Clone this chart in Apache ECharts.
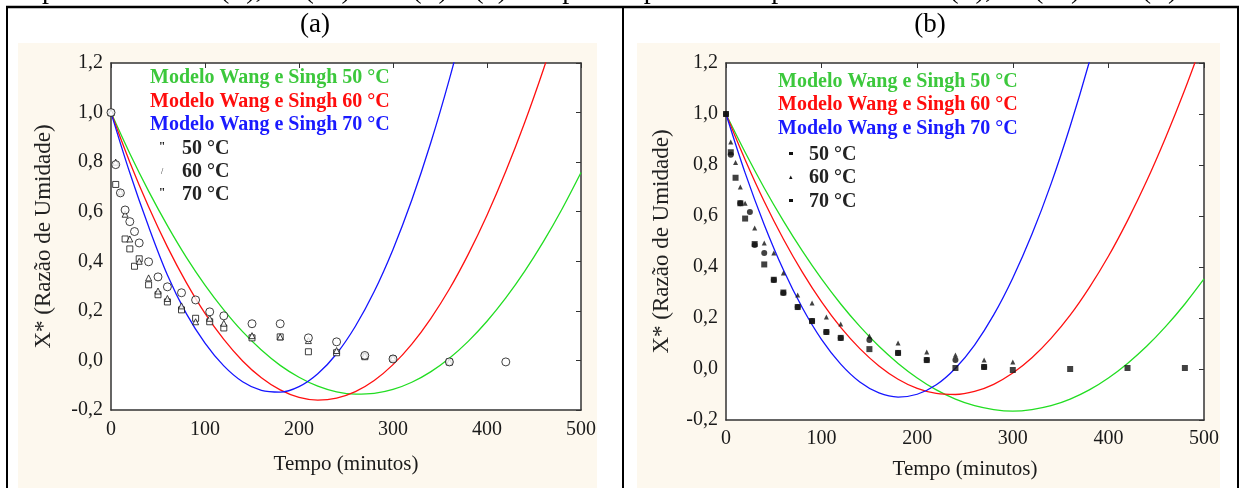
<!DOCTYPE html>
<html><head><meta charset="utf-8">
<script src="https://cdn.jsdelivr.net/npm/echarts@6/dist/echarts.min.js"></script>
<style>html,body{margin:0;padding:0;background:#fff}#c{width:1249px;height:488px}</style>
</head><body><div id="c"></div>
<script>
// ---- data ----
const modelTimes = [0,20,40,60,80,100,120,140,160,180,200,220,240,260,280,300,320,340,360,380,400,420,440,460,480,500];
// panel (a) model curves
const aModel50 = [1.0,0.835,0.683,0.544,0.417,0.304,0.204,0.116,0.042,-0.020,-0.068,-0.104,-0.127,-0.136,-0.133,-0.117,-0.088,-0.046,0.009,0.077,0.158,0.252,0.359,0.479,0.612,0.758];
const aModel60 = [1.0,0.800,0.620,0.458,0.315,0.190,0.085,-0.002,-0.070,-0.119,-0.149,-0.160,-0.152,-0.126,-0.081,-0.017,0.066,0.168,0.288,0.428,0.586,0.763,0.959,1.174,1.407];
const aModel70 = [1.0,0.757,0.540,0.345,0.190,0.070,-0.022,-0.086,-0.121,-0.128,-0.106,-0.054,0.027,0.138,0.278,0.448,0.647,0.876,1.135,1.423];
// panel (b) model curves
const bModel50 = [1.0,0.850,0.710,0.581,0.462,0.353,0.255,0.167,0.089,0.022,-0.035,-0.082,-0.118,-0.144,-0.159,-0.165,-0.159,-0.144,-0.118,-0.082,-0.035,0.022,0.089,0.167,0.255,0.353];
const bModel60 = [1.0,0.821,0.657,0.510,0.379,0.263,0.163,0.080,0.012,-0.040,-0.076,-0.096,-0.100,-0.088,-0.060,-0.016,0.044,0.120,0.211,0.319,0.442,0.582,0.737,0.909,1.096,1.299];
const bModel70 = [1.0,0.769,0.566,0.389,0.239,0.115,0.019,-0.051,-0.094,-0.110,-0.099,-0.062,0.003,0.094,0.212,0.357,0.528,0.726,0.952,1.204,1.482];
// panel (a) experimental points [time, X*]
const aExp50 = [[0,1.0],[5,0.71],[15,0.49],[20,0.45],[25,0.38],[30,0.41],[40,0.305],[50,0.265],[60,0.236],[75,0.204],[90,0.17],[105,0.156],[120,0.131],[150,0.091],[180,0.095],[210,0.035],[240,0.031],[270,0.015],[300,0.006],[360,-0.006]];
const aExp60 = [[0,1.0],[5,0.80],[10,0.68],[15,0.59],[20,0.49],[30,0.40],[40,0.333],[50,0.28],[60,0.25],[75,0.22],[90,0.156],[105,0.17],[120,0.15],[150,0.10],[180,0.095],[210,0.08],[240,0.04],[270,0.02],[300,0.01],[360,-0.006]];
const aExp70 = [[0,1.0],[5,0.79],[10,0.676],[15,0.607],[20,0.56],[25,0.52],[30,0.474],[40,0.398],[50,0.337],[60,0.297],[75,0.273],[90,0.244],[105,0.196],[120,0.18],[150,0.148],[180,0.148],[210,0.091],[240,0.075],[270,0.02],[300,0.006],[360,-0.006],[420,-0.006]];
// panel (b) experimental points
const bExp50 = [[0,1.0],[5,0.85],[10,0.75],[15,0.65],[20,0.59],[30,0.49],[40,0.41],[50,0.35],[60,0.30],[75,0.243],[90,0.188],[105,0.145],[120,0.122],[150,0.078],[180,0.063],[210,0.035],[240,0.004],[270,0.008],[300,-0.004],[360,0.0],[420,0.004],[480,0.004]];
const bExp60 = [[0,1.0],[5,0.89],[10,0.81],[15,0.714],[20,0.65],[30,0.553],[40,0.494],[50,0.455],[60,0.376],[75,0.29],[90,0.259],[105,0.204],[120,0.176],[150,0.129],[180,0.102],[210,0.067],[240,0.055],[270,0.035],[300,0.027]];
const bExp70 = [[0,1.0],[5,0.84],[15,0.65],[25,0.616],[30,0.486],[40,0.455],[50,0.349],[60,0.298],[75,0.243],[90,0.188],[105,0.145],[120,0.122],[150,0.114],[180,0.063],[210,0.035],[240,0.035],[270,0.008]];
const xTicks = {min:0, max:500, interval:100};
const yTicks = {min:-0.2, max:1.2, interval:0.2};
const modelNames = ['Modelo Wang e Singh 50 °C','Modelo Wang e Singh 60 °C','Modelo Wang e Singh 70 °C'];
const expNames = ['50 °C','60 °C','70 °C'];
const panelTitles = ['(a)','(b)'];
const xName = 'Tempo (minutos)';
const yName = 'X* (Razão de Umidade)';
const cutCaption = 'temperaturas de 50 (■), 60 (▲) e 70 (●) e (b) comparada para as temperaturas de 50 (■), 60 (▲) e 70 (●).';

// ---- styling ----
const FONT = '"Liberation Serif","Times New Roman",serif';
const GREEN = '#22dd22', RED = '#ff1010', BLUE = '#1515ff';
const LEG_GREEN = '#3cc83c', LEG_RED = '#ff0d0d', LEG_BLUE = '#1a1aff';
const pair = vals => vals.map((v,i)=>[modelTimes[i], v]);
const fmtY = v => (Math.round(v*10)/10).toFixed(1).replace('.', ',');

function xAxes(grid, labelMargin, nameGap){
  return [
    {gridIndex:grid, type:'value', ...xTicks, position:'bottom',
     axisLine:{onZero:false, lineStyle:{color:'#333', width:1.5}}, axisTick:{show:false}, splitLine:{show:false},
     axisLabel:{color:'#1a1a1a', fontFamily:FONT, fontSize:20, margin:labelMargin},
     name:xName, nameLocation:'middle', nameGap:nameGap,
     nameTextStyle:{color:'#1a1a1a', fontFamily:FONT, fontSize:21}},
    {gridIndex:grid, type:'value', ...xTicks, position:'top',
     axisLine:{onZero:false, lineStyle:{color:'#333', width:1.5}}, axisTick:{show:true, inside:true, length:5, lineStyle:{color:'#333'}},
     axisLabel:{show:false}, splitLine:{show:false}}
  ];
}
function yAxes(grid, nameGap){
  return [
    {gridIndex:grid, type:'value', ...yTicks, position:'left',
     axisLine:{onZero:false, lineStyle:{color:'#333', width:1.5}}, axisTick:{show:false}, splitLine:{show:false},
     axisLabel:{color:'#1a1a1a', fontFamily:FONT, fontSize:20, margin:8, formatter:fmtY},
     name:yName, nameLocation:'middle', nameGap:nameGap,
     nameTextStyle:{color:'#222', fontFamily:FONT, fontSize:23}},
    {gridIndex:grid, type:'value', ...yTicks, position:'right',
     axisLine:{onZero:false, lineStyle:{color:'#333', width:1.5}}, axisTick:{show:true, inside:true, length:5, lineStyle:{color:'#333'}},
     axisLabel:{show:false}, splitLine:{show:false}}
  ];
}
function line(name, vals, color, xi, yi){
  return {name, type:'line', xAxisIndex:xi, yAxisIndex:yi, data:pair(vals), smooth:0.35, showSymbol:false,
          clip:true, lineStyle:{color, width:1.3}, z:3};
}
function scatter(name, pts, symbol, size, hollow, xi, yi){
  return {name, type:'scatter', xAxisIndex:xi, yAxisIndex:yi, data:pts, symbol, symbolSize:size, z:4,
          itemStyle: hollow ? {color:'#fff', borderColor:'#111', borderWidth:1} : {color:'#111'}};
}

const legendText = (txt, x, y, color) => ({type:'text', x, y, style:{text:txt, fill:color, font:'bold 20px '+FONT, verticalAlign:'middle'}});
const graphics = [
  // beige panel backgrounds
  {type:'rect', z:-10, shape:{x:18, y:43, width:579, height:445}, style:{fill:'#fdf8ee'}},
  {type:'rect', z:-10, shape:{x:637, y:43, width:583, height:445}, style:{fill:'#fdf8ee'}},
  // table borders
  {type:'line', shape:{x1:6, y1:7, x2:1239, y2:7}, style:{stroke:'#000', lineWidth:2.5}},
  {type:'line', shape:{x1:7, y1:7, x2:7, y2:488}, style:{stroke:'#000', lineWidth:2}},
  {type:'line', shape:{x1:623, y1:7, x2:623, y2:488}, style:{stroke:'#000', lineWidth:2}},
  {type:'line', shape:{x1:1238, y1:7, x2:1238, y2:488}, style:{stroke:'#000', lineWidth:2}},
  // clipped caption line above the table
  {type:'text', x:0, y:-9, style:{text:cutCaption, fill:'#000', font:'28px '+FONT, verticalAlign:'middle'}},
  // panel headers
  {type:'text', x:315, y:25, style:{text:panelTitles[0], fill:'#000', font:'27px '+FONT, align:'center', verticalAlign:'middle'}},
  {type:'text', x:930, y:25, style:{text:panelTitles[1], fill:'#000', font:'27px '+FONT, align:'center', verticalAlign:'middle'}},
  // legend (a)
  legendText(modelNames[0], 150, 78, LEG_GREEN),
  legendText(modelNames[1], 150, 102, LEG_RED),
  legendText(modelNames[2], 150, 125, LEG_BLUE),
  {type:'text', x:162, y:147, style:{text:'"', fill:'#111', font:'bold 12px '+FONT, align:'center', verticalAlign:'middle'}},
  {type:'text', x:162, y:172, style:{text:'/', fill:'#111', font:'8px '+FONT, align:'center', verticalAlign:'middle'}},
  {type:'text', x:162, y:193, style:{text:'"', fill:'#111', font:'bold 12px '+FONT, align:'center', verticalAlign:'middle'}},
  legendText(expNames[0], 182, 149, '#222'),
  legendText(expNames[1], 182, 172, '#222'),
  legendText(expNames[2], 182, 195, '#222'),
  // legend (b)
  legendText(modelNames[0], 778, 82, LEG_GREEN),
  legendText(modelNames[1], 778, 105, LEG_RED),
  legendText(modelNames[2], 778, 129, LEG_BLUE),
  {type:'rect', shape:{x:789, y:152, width:4, height:3}, style:{fill:'#111'}},
  {type:'text', x:791, y:177, style:{text:'▴', fill:'#111', font:'7px '+FONT, align:'center', verticalAlign:'middle'}},
  {type:'rect', shape:{x:789, y:199, width:4, height:3}, style:{fill:'#111'}},
  legendText(expNames[0], 809, 155, '#222'),
  legendText(expNames[1], 809, 178, '#222'),
  legendText(expNames[2], 809, 202, '#222')
];

const option = {
  animation:false,
  backgroundColor:'#fff',
  textStyle:{fontFamily:FONT},
  grid:[
    {left:111, top:63, width:470, height:347, show:true, backgroundColor:'#fff', borderWidth:0},
    {left:726, top:63, width:478, height:357, show:true, backgroundColor:'#fff', borderWidth:0}
  ],
  xAxis:[...xAxes(0, 10, 44), ...xAxes(1, 9, 39)],
  yAxis:[...yAxes(0, 56), ...yAxes(1, 53)],
  graphic:{elements:graphics},
  series:[
    line(modelNames[0], aModel50, GREEN, 0, 0),
    line(modelNames[1], aModel60, RED, 0, 0),
    line(modelNames[2], aModel70, BLUE, 0, 0),
    scatter(expNames[0], aExp50, 'rect', 6, true, 0, 0),
    scatter(expNames[1], aExp60, 'triangle', 6, true, 0, 0),
    scatter(expNames[2], aExp70, 'circle', 8, true, 0, 0),
    line(modelNames[0], bModel50, GREEN, 2, 2),
    line(modelNames[1], bModel60, RED, 2, 2),
    line(modelNames[2], bModel70, BLUE, 2, 2),
    scatter(expNames[0], bExp50, 'rect', 6, false, 2, 2),
    scatter(expNames[1], bExp60, 'triangle', 5, false, 2, 2),
    scatter(expNames[2], bExp70, 'circle', 6, false, 2, 2)
  ]
};
const chart = echarts.init(document.getElementById('c'), null, {renderer:'canvas'});
chart.setOption(option);
</script></body></html>
